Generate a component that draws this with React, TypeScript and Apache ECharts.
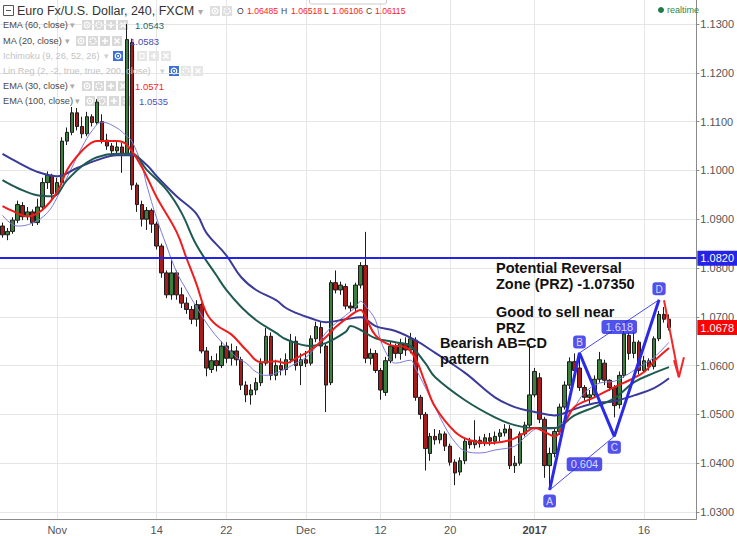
import React, { useEffect, useRef } from "react";
import * as echarts from "echarts";

const FONT = "'Liberation Sans', Arial, sans-serif";

// ---- axes ----
const N_BARS = 140;
const categories = Array.from({ length: N_BARS }, (_, i) => "bar" + i);
const xTickLabels: [number, string][] = [
  [11, "Nov"], [31, "14"], [45, "22"], [61, "Dec"], [76, "12"], [90, "20"], [107, "2017"], [129, "16"],
];
const yTickValues = [1.03, 1.04, 1.05, 1.06, 1.07, 1.08, 1.09, 1.1, 1.11, 1.12, 1.13];
const Y_MIN = 1.028566;
const Y_MAX = 1.134918;

// ---- candles: [open, close, low, high] ----
const candles = [
  [1.0886, 1.0868, 1.0862, 1.0893], [1.0868, 1.0875, 1.0857, 1.0882], [1.0875, 1.0898, 1.087, 1.0904],
  [1.0898, 1.093, 1.0892, 1.0938], [1.0928, 1.0905, 1.0898, 1.0935], [1.0905, 1.0915, 1.0898, 1.0925],
  [1.0915, 1.0893, 1.0886, 1.092], [1.0893, 1.0925, 1.0888, 1.0942], [1.0925, 1.0975, 1.0918, 1.0985],
  [1.0975, 1.099, 1.0962, 1.0998], [1.099, 1.0952, 1.0942, 1.0993], [1.0952, 1.0975, 1.0948, 1.0985],
  [1.0975, 1.106, 1.097, 1.1068], [1.106, 1.1078, 1.1052, 1.1088], [1.1078, 1.1118, 1.1072, 1.113],
  [1.1118, 1.109, 1.1082, 1.1128], [1.109, 1.1075, 1.1066, 1.111], [1.1075, 1.111, 1.107, 1.112],
  [1.111, 1.1098, 1.109, 1.1115], [1.1098, 1.114, 1.1094, 1.1146], [1.11, 1.1062, 1.1055, 1.1115],
  [1.1062, 1.105, 1.1042, 1.1075], [1.105, 1.104, 1.1033, 1.1056], [1.104, 1.1048, 1.103, 1.1058],
  [1.1048, 1.1035, 1.0995, 1.1056], [1.1035, 1.1268, 1.103, 1.13], [1.1262, 1.097, 1.096, 1.127],
  [1.097, 1.093, 1.0915, 1.0975], [1.093, 1.09, 1.0885, 1.0938], [1.09, 1.0918, 1.0878, 1.0925],
  [1.0918, 1.089, 1.0872, 1.0922], [1.089, 1.0845, 1.0838, 1.0895], [1.0845, 1.079, 1.078, 1.085],
  [1.079, 1.0745, 1.0738, 1.0795], [1.0745, 1.079, 1.0735, 1.0816], [1.079, 1.0745, 1.0735, 1.0795],
  [1.0745, 1.0728, 1.0718, 1.076], [1.0728, 1.0715, 1.0706, 1.074], [1.0715, 1.0695, 1.0685, 1.0722],
  [1.0695, 1.0725, 1.068, 1.0734], [1.0725, 1.063, 1.0625, 1.0728], [1.063, 1.0595, 1.0578, 1.0638],
  [1.0592, 1.061, 1.0585, 1.062], [1.061, 1.06, 1.0588, 1.0625], [1.06, 1.064, 1.0595, 1.065],
  [1.064, 1.0615, 1.0605, 1.0648], [1.0615, 1.063, 1.06, 1.0645], [1.063, 1.0612, 1.06, 1.064],
  [1.0612, 1.056, 1.055, 1.0618], [1.056, 1.054, 1.0525, 1.0568], [1.054, 1.055, 1.052, 1.0562],
  [1.055, 1.0565, 1.054, 1.0575], [1.0565, 1.0605, 1.0558, 1.0615], [1.0605, 1.066, 1.06, 1.0677],
  [1.066, 1.058, 1.057, 1.0668], [1.058, 1.06, 1.057, 1.0612], [1.06, 1.0592, 1.058, 1.0615],
  [1.0592, 1.0612, 1.058, 1.0625], [1.0612, 1.065, 1.0605, 1.0665], [1.065, 1.06, 1.059, 1.066],
  [1.06, 1.0612, 1.056, 1.0625], [1.0612, 1.0605, 1.0597, 1.063], [1.0605, 1.0655, 1.06, 1.0662],
  [1.0655, 1.068, 1.0648, 1.069], [1.0678, 1.064, 1.0625, 1.069], [1.064, 1.056, 1.0505, 1.0645],
  [1.0565, 1.077, 1.056, 1.0775], [1.077, 1.0755, 1.0748, 1.0795], [1.0755, 1.0765, 1.0745, 1.0772],
  [1.0762, 1.0722, 1.0715, 1.0768], [1.0722, 1.0718, 1.071, 1.073], [1.0718, 1.0765, 1.0712, 1.077],
  [1.0765, 1.0805, 1.0758, 1.0812], [1.0805, 1.0615, 1.0605, 1.0874], [1.0615, 1.0625, 1.0602, 1.0635],
  [1.0625, 1.059, 1.0585, 1.0632], [1.059, 1.055, 1.053, 1.0595], [1.0545, 1.061, 1.0538, 1.0618],
  [1.061, 1.064, 1.0605, 1.065], [1.064, 1.0625, 1.0615, 1.0645], [1.0625, 1.0645, 1.0612, 1.0655],
  [1.0645, 1.0632, 1.062, 1.0658], [1.0632, 1.0655, 1.0625, 1.0667], [1.0652, 1.0535, 1.0528, 1.0658],
  [1.0535, 1.05, 1.049, 1.054], [1.05, 1.043, 1.0385, 1.0505], [1.042, 1.0455, 1.0405, 1.0462],
  [1.0455, 1.0448, 1.0438, 1.047], [1.0448, 1.046, 1.044, 1.0468], [1.046, 1.0435, 1.0425, 1.0465],
  [1.0435, 1.0402, 1.0395, 1.044], [1.0402, 1.038, 1.0355, 1.0408], [1.0382, 1.0405, 1.0375, 1.0412],
  [1.0405, 1.0445, 1.0398, 1.045], [1.0445, 1.0438, 1.043, 1.0452], [1.0438, 1.0447, 1.043, 1.0488],
  [1.0447, 1.044, 1.0432, 1.0455], [1.044, 1.0452, 1.0435, 1.046], [1.0452, 1.0445, 1.0436, 1.0462],
  [1.0445, 1.0455, 1.0438, 1.0465], [1.0455, 1.0462, 1.0445, 1.047], [1.0462, 1.047, 1.0455, 1.048],
  [1.047, 1.0395, 1.0388, 1.0478], [1.0395, 1.04, 1.038, 1.0415], [1.04, 1.046, 1.0395, 1.0465],
  [1.046, 1.0478, 1.0455, 1.0485], [1.0478, 1.054, 1.0472, 1.0645], [1.054, 1.0588, 1.0535, 1.0595],
  [1.0575, 1.049, 1.0482, 1.0585], [1.049, 1.0395, 1.037, 1.0495], [1.0395, 1.042, 1.0345, 1.0432],
  [1.042, 1.0465, 1.0412, 1.0472], [1.0465, 1.0515, 1.0458, 1.0522], [1.0515, 1.056, 1.051, 1.0568],
  [1.056, 1.0608, 1.0552, 1.0617], [1.0608, 1.059, 1.0582, 1.0625], [1.0595, 1.0555, 1.0548, 1.0625],
  [1.0555, 1.0535, 1.0528, 1.056], [1.0535, 1.054, 1.0522, 1.055], [1.054, 1.0572, 1.0535, 1.058],
  [1.0572, 1.0612, 1.0565, 1.0628], [1.0605, 1.057, 1.056, 1.0612], [1.057, 1.0555, 1.0548, 1.0572],
  [1.0555, 1.0518, 1.0494, 1.056], [1.052, 1.058, 1.0512, 1.0588], [1.058, 1.0665, 1.0575, 1.0679],
  [1.0662, 1.0625, 1.0612, 1.0668], [1.0625, 1.0648, 1.0615, 1.0668], [1.0648, 1.059, 1.0582, 1.0652],
  [1.059, 1.061, 1.0585, 1.062], [1.061, 1.0598, 1.059, 1.0615], [1.0598, 1.0655, 1.0592, 1.066],
  [1.0655, 1.0705, 1.065, 1.0712], [1.0705, 1.0695, 1.0688, 1.072], [1.0695, 1.0678, 1.0672, 1.0705],
];

// ---- moving averages: [bar index, price] ----
const ema100 = [
  [0, 1.1034], [3, 1.1017], [7, 1.0997], [11, 1.0988], [15, 1.1005], [19, 1.1021], [23, 1.1031], [26, 1.1031],
  [29, 1.1011], [31, 1.0988], [35, 1.0947], [39, 1.0911], [41, 1.0872], [45, 1.0826], [48, 1.0781], [51, 1.0755],
  [55, 1.0734], [57, 1.0718], [59, 1.0708], [62, 1.0697], [65, 1.0689], [69, 1.0695], [72, 1.0699], [75, 1.0681],
  [79, 1.0671], [83, 1.0652], [87, 1.0626], [93, 1.0585], [99, 1.0535], [103, 1.0515], [107, 1.0505], [111, 1.0498],
  [115, 1.0511], [119, 1.0523], [123, 1.0527], [127, 1.0539], [131, 1.0554], [134, 1.0574],
];
const ema60 = [
  [0, 1.098], [3, 1.0964], [7, 1.0949], [10, 1.0947], [13, 1.098], [16, 1.1009], [19, 1.1027], [23, 1.1034],
  [26, 1.1034], [29, 1.1001], [33, 1.096], [36, 1.0913], [39, 1.0847], [43, 1.0785], [45, 1.0755], [48, 1.072],
  [51, 1.0693], [55, 1.0667], [57, 1.0654], [62, 1.064], [65, 1.0646], [69, 1.0669], [70, 1.0681], [72, 1.0673],
  [75, 1.0656], [79, 1.0648], [82, 1.064], [85, 1.0605], [87, 1.0576], [93, 1.0529], [99, 1.0494], [103, 1.0478],
  [107, 1.0472], [111, 1.0472], [115, 1.0498], [119, 1.0515], [123, 1.0533], [127, 1.0566], [131, 1.0585], [134, 1.0597],
];
const ema30 = [
  [0, 1.0927], [2, 1.0917], [5, 1.0906], [8, 1.0919], [11, 1.0956], [13, 1.1001], [15, 1.1029], [17, 1.105],
  [19, 1.106], [23, 1.106], [25, 1.1052], [28, 1.1007], [31, 1.0945], [35, 1.0874], [37, 1.082], [39, 1.0767],
  [41, 1.0708], [43, 1.0683], [46, 1.0664], [49, 1.0632], [52, 1.0607], [55, 1.0609], [57, 1.0605], [59, 1.0615],
  [62, 1.0632], [65, 1.0658], [67, 1.0679], [70, 1.0703], [72, 1.0714], [73, 1.0699], [75, 1.0662], [78, 1.0642],
  [81, 1.0638], [83, 1.0615], [85, 1.0564], [87, 1.0515], [91, 1.0464], [94, 1.0447], [98, 1.0441], [102, 1.0447],
  [105, 1.0462], [107, 1.0472], [109, 1.0464], [111, 1.0455], [113, 1.0482], [115, 1.0515], [119, 1.0535],
  [123, 1.0556], [126, 1.057], [129, 1.0587], [131, 1.0609], [134, 1.0636],
];
const ma20 = [
  [0, 1.0908], [3, 1.0886], [6, 1.0892], [9, 1.0913], [11, 1.0945], [14, 1.1007], [16, 1.1048], [18, 1.1081],
  [20, 1.1099], [23, 1.1087], [25, 1.107], [26, 1.106], [28, 1.1011], [29, 1.097], [31, 1.0902], [33, 1.0845],
  [35, 1.0792], [37, 1.0755], [39, 1.072], [42, 1.0673], [45, 1.0638], [47, 1.0617], [49, 1.0605], [51, 1.0587],
  [53, 1.058], [56, 1.0589], [59, 1.0605], [61, 1.0617], [63, 1.0638], [65, 1.0667], [67, 1.0687], [69, 1.0703],
  [71, 1.072], [72, 1.0732], [73, 1.0722], [75, 1.0693], [76, 1.0652], [78, 1.0611], [79, 1.0605], [82, 1.0611],
  [83, 1.0595], [86, 1.0535], [89, 1.0474], [91, 1.0443], [93, 1.0425], [96, 1.0421], [99, 1.0427], [103, 1.0435],
  [105, 1.0453], [108, 1.0472], [110, 1.047], [112, 1.0478], [115, 1.0515], [117, 1.0544], [120, 1.0564],
  [123, 1.0568], [125, 1.0578], [128, 1.0597], [131, 1.0617], [134, 1.0648],
];

// ---- AB=CD pattern ----
const patternPoints: [string, number, number][] = [
  ["A", 110, 1.0345], ["B", 116, 1.0626], ["C", 123, 1.0455], ["D", 132, 1.0735],
];
const ratioLabels: [string, number, number][] = [["0.604", 117, 1.0398], ["1.618", 124, 1.0679]];
const resistanceLevel = 1.082;
const lastPrice = 1.0678;
const arrowShaft = [[133, 1.0734], [136, 1.0576]];
const arrowHead = [[135, 1.0611], [136, 1.0576], [137, 1.0617]];

// ---- header / legend texts ----
const titleText = "Euro Fx/U.S. Dollar, 240, FXCM";
const ohlc: [string, string][] = [["O", "1.06485"], ["H", "1.06518"], ["L", "1.06106"], ["C", "1.06115"]];
const legendRows = [
  { name: "EMA (60, close)", value: "1.0543", color: "#2c6a66", faded: false },
  { name: "MA (20, close)", value: "1.0583", color: "#4a4ab2", faded: false },
  { name: "Ichimoku (9, 26, 52, 26)", value: "", color: "", faded: true },
  { name: "Lin Reg (2, -2, true, true, 200, close)", value: "", color: "", faded: true },
  { name: "EMA (30, close)", value: "1.0571", color: "#ff1a1a", faded: false },
  { name: "EMA (100, close)", value: "1.0535", color: "#4f4fc4", faded: false },
];
const annotations: [string, number, number][] = [
  ["Potential Reversal\nZone (PRZ) -1.07350", 496, 260],
  ["Good to sell near\nPRZ", 496, 304],
  ["Bearish AB=CD\npattern", 440, 335],
];

function txt(text: string, x: number, y: number, fill: string, size: number, weight = "normal", align = "left") {
  return {
    type: "text", x, y, silent: true, z: 100,
    style: { text, fill, fontSize: size, fontFamily: FONT, fontWeight: weight, verticalAlign: "middle", align },
  };
}

function icon(x: number, y: number, kind: string, fill: string) {
  const children: any[] = [
    { type: "rect", shape: { x: 0, y: 0, width: 10, height: 10 }, style: { fill } },
  ];
  if (kind === "eye") {
    children.push({ type: "circle", shape: { cx: 5, cy: 5, r: 2.8 }, style: { fill: "none", stroke: "#fff", lineWidth: 1.2 } });
    children.push({ type: "circle", shape: { cx: 5, cy: 5, r: 1 }, style: { fill: "#fff" } });
  } else if (kind === "gear") {
    children.push({ type: "circle", shape: { cx: 5, cy: 5, r: 3 }, style: { fill: "none", stroke: "#fff", lineWidth: 1.5, lineDash: [1.5, 1] } });
  } else if (kind === "plus") {
    children.push({ type: "line", shape: { x1: 5, y1: 2, x2: 5, y2: 8 }, style: { stroke: "#fff", lineWidth: 1.5 } });
    children.push({ type: "line", shape: { x1: 2, y1: 5, x2: 8, y2: 5 }, style: { stroke: "#fff", lineWidth: 1.5 } });
  } else if (kind === "x") {
    children.push({ type: "line", shape: { x1: 2.5, y1: 2.5, x2: 7.5, y2: 7.5 }, style: { stroke: "#fff", lineWidth: 1.5 } });
    children.push({ type: "line", shape: { x1: 7.5, y1: 2.5, x2: 2.5, y2: 7.5 }, style: { stroke: "#fff", lineWidth: 1.5 } });
  } else if (kind === "brace") {
    children.push({ type: "rect", shape: { x: 3, y: 2.5, width: 4, height: 5 }, style: { fill: "none", stroke: "#fff", lineWidth: 1 } });
  }
  return { type: "group", x, y: y - 5, silent: true, z: 100, children };
}

function buildGraphics() {
  const g: any[] = [];
  // header
  g.push({ type: "rect", silent: true, z: 100, shape: { x: 3.5, y: 5.5, width: 10, height: 10 }, style: { fill: "#fff", stroke: "#555", lineWidth: 1 } });
  g.push({ type: "line", silent: true, z: 100, shape: { x1: 6, y1: 10.5, x2: 11, y2: 10.5 }, style: { stroke: "#555", lineWidth: 1 } });
  g.push(txt(titleText, 17, 11, "#333", 12.5));
  g.push(txt("▾", 198, 11, "#aaa", 10));
  g.push(icon(210, 11, "eye", "#dedede"));
  g.push(icon(222, 11, "gear", "#dedede"));
  const ohlcX = [[237, 247], [281, 291], [324, 332], [366, 375]];
  ohlc.forEach(([k, v], i) => {
    g.push(txt(k, ohlcX[i][0], 11, "#444", 8.6));
    g.push(txt(v, ohlcX[i][1], 11, "#ff2020", 8.6));
  });
  g.push({ type: "rect", silent: true, z: 99, shape: { x: 309.5, y: -8, width: 77, height: 12, r: 2 }, style: { fill: "#fff", stroke: "#ccc", lineWidth: 1 } });
  g.push({ type: "circle", silent: true, z: 100, shape: { cx: 661, cy: 10, r: 3 }, style: { fill: "#1f7a45" } });
  g.push(txt("realtime", 667, 10, "#2a8a4c", 9));

  // legend rows
  const rowY = [25, 41, 56, 71, 86, 101];
  const layout = [
    { arrow: 70, icons: 82, value: 135 },
    { arrow: 65, icons: 76, value: 130 },
    { arrow: 104, icons: 113, value: 0 },
    { arrow: 160, icons: 169, value: 0 },
    { arrow: 70, icons: 82, value: 135 },
    { arrow: 75, icons: 85, value: 139 },
  ];
  legendRows.forEach((r, i) => {
    const y = rowY[i];
    const L = layout[i];
    g.push(txt(r.name, 3, y, r.faded ? "#c3c3c3" : "#4a4a4a", 9.2));
    g.push(txt("▾", L.arrow, y, r.faded ? "#d0d0d0" : "#aaa", 9));
    if (!r.faded) {
      ["eye", "gear", "plus", "x"].forEach((k, j) => g.push(icon(L.icons + j * 12, y, k, "#d9d9d9")));
      g.push(txt(r.value, L.value, y, r.color, 9.5));
    } else {
      g.push(icon(L.icons, y, "eye", "#3a70d8"));
      const rest = i === 2 ? ["gear", "brace", "plus", "x"] : ["gear", "x"];
      rest.forEach((k, j) => g.push(icon(L.icons + (j + 1) * 12, y, k, "#e6e6e6")));
    }
  });

  // annotations (two-line blocks, top-anchored)
  annotations.forEach(([t, x, y]) =>
    g.push({
      type: "text", x, y, silent: true, z: 100,
      style: {
        text: t, fill: "#111", fontSize: 14.5, fontFamily: FONT, fontWeight: "bold",
        lineHeight: 16, verticalAlign: "top", align: "left",
      },
    })
  );
  return g;
}

export default function App() {
  const ref = useRef<HTMLDivElement>(null);
  useEffect(() => {
    if (!ref.current) return;
    const chart = echarts.init(ref.current, undefined, { renderer: "svg" });
    const tickMap = new Map<number, string>(xTickLabels);
    const labelStyle = {
      backgroundColor: "#2626e6", color: "#fff", borderRadius: 3, padding: [2, 3, 1, 3],
      fontSize: 10, fontFamily: FONT,
    };
    const option: any = {
      animation: false,
      backgroundColor: "#ffffff",
      grid: { left: 0, right: 36, top: 0, bottom: 17 },
      xAxis: {
        type: "category",
        data: categories,
        boundaryGap: true,
        axisLine: { show: true, lineStyle: { color: "#8a8a8a", width: 1 } },
        axisTick: { show: false },
        axisLabel: {
          interval: (i: number) => tickMap.has(i),
          formatter: (_v: string, i: number) => {
            const t = tickMap.get(i) || "";
            return t === "2017" ? "{b|2017}" : t;
          },
          margin: 5,
          color: "#555",
          fontSize: 11,
          fontFamily: FONT,
          rich: { b: { fontWeight: "bold", fontSize: 11, color: "#444", fontFamily: FONT } },
        },
        splitLine: {
          show: true,
          interval: (i: number) => tickMap.has(i),
          alignWithLabel: true,
          lineStyle: { color: "#e6e6e6", width: 1 },
        },
      },
      yAxis: {
        type: "value",
        position: "right",
        min: Y_MIN,
        max: Y_MAX,
        axisLine: { show: true, lineStyle: { color: "#8a8a8a", width: 1 } },
        axisTick: { show: true, length: 3, customValues: yTickValues, lineStyle: { color: "#8a8a8a" } },
        axisLabel: {
          customValues: yTickValues,
          formatter: (v: number) => v.toFixed(4),
          margin: 4,
          color: "#555",
          fontSize: 11,
          fontFamily: FONT,
        },
        splitLine: { show: true, lineStyle: { color: "#e6e6e6", width: 1 } },
      },
      graphic: buildGraphics(),
      series: [
        {
          type: "candlestick",
          data: candles,
          barWidth: 4,
          z: 2,
          itemStyle: {
            color: "#3d7d3d", color0: "#a51c1c",
            borderColor: "#1c1c1c", borderColor0: "#1c1c1c", borderWidth: 1,
          },
          markLine: {
            silent: true,
            precision: 4,
            symbol: ["none", "none"],
            data: [
              {
                yAxis: resistanceLevel,
                lineStyle: { color: "#2424e8", width: 2, type: "solid" },
                label: {
                  show: true, position: "end", distance: 1, formatter: resistanceLevel.toFixed(4),
                  backgroundColor: "#2424e8", color: "#fff", padding: [2, 3, 2, 3], fontSize: 11, fontFamily: FONT,
                },
              },
              {
                yAxis: lastPrice,
                lineStyle: { color: "rgba(255,0,0,0)", width: 1, type: "solid" },
                label: {
                  show: true, position: "end", distance: 1, formatter: lastPrice.toFixed(4),
                  backgroundColor: "#ff0000", color: "#fff", padding: [2, 3, 2, 3], fontSize: 11, fontFamily: FONT,
                },
              },
            ],
          },
        },
        { type: "line", data: ma20, smooth: 0.4, symbol: "none", z: 3, lineStyle: { color: "#7b7bdc", width: 1 } },
        { type: "line", data: ema100, smooth: 0.4, symbol: "none", z: 3, lineStyle: { color: "#3a3a98", width: 2 } },
        { type: "line", data: ema60, smooth: 0.4, symbol: "none", z: 3, lineStyle: { color: "#1f5a50", width: 2 } },
        { type: "line", data: ema30, smooth: 0.4, symbol: "none", z: 3, lineStyle: { color: "#f21b1b", width: 2 } },
        {
          type: "line",
          data: patternPoints.map((p) => [p[1], p[2]]),
          symbol: "none", z: 5,
          lineStyle: { color: "#2a2ae8", width: 3 },
        },
        {
          type: "line",
          data: [[patternPoints[0][1], patternPoints[0][2]], [patternPoints[2][1], patternPoints[2][2]]],
          symbol: "none", z: 5, lineStyle: { color: "#4a4af0", width: 1 },
        },
        {
          type: "line",
          data: [[patternPoints[1][1], patternPoints[1][2]], [patternPoints[3][1], patternPoints[3][2]]],
          symbol: "none", z: 5, lineStyle: { color: "#4a4af0", width: 1 },
        },
        { type: "line", data: arrowShaft, symbol: "none", z: 5, lineStyle: { color: "#f02a2a", width: 2 } },
        { type: "line", data: arrowHead, symbol: "none", z: 5, lineStyle: { color: "#f02a2a", width: 2 } },
        {
          type: "scatter",
          z: 6,
          symbolSize: 1,
          itemStyle: { color: "rgba(0,0,0,0)" },
          data: patternPoints.map(([name, i, v]) => ({
            value: [i, v],
            label: {
              show: true,
              formatter: name,
              position: name === "A" || name === "C" ? "bottom" : "top",
              distance: 4,
              ...labelStyle,
            },
          })),
        },
        {
          type: "scatter",
          z: 6,
          symbolSize: 1,
          itemStyle: { color: "rgba(0,0,0,0)" },
          data: ratioLabels.map(([name, i, v]) => ({
            value: [i, v],
            label: { show: true, formatter: name, position: "inside", ...labelStyle, fontSize: 11, padding: [2, 4, 1, 4] },
          })),
        },
      ],
    };
    chart.setOption(option);
    return () => chart.dispose();
  }, []);
  return <div ref={ref} style={{ position: "fixed", left: 0, top: 0, width: 737, height: 536 }} />;
}
